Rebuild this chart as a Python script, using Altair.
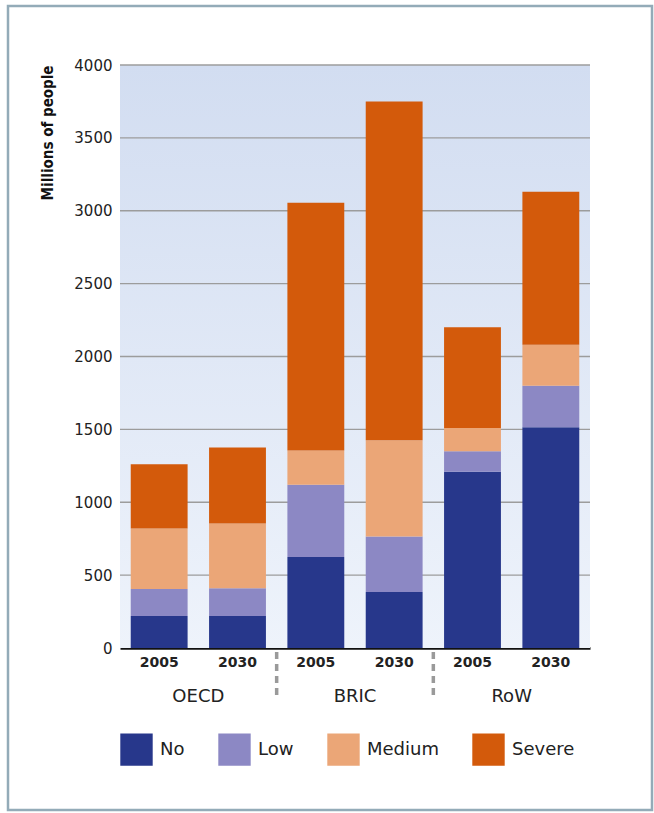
import altair as alt
import pandas as pd

groups = ["OECD", "BRIC", "RoW"]
years = ["2005", "2030"]
levels = ["No", "Low", "Medium", "Severe"]
colors = ["#27378b", "#8c88c4", "#eba677", "#d35a0b"]

# values per bar: OECD 2005, OECD 2030, BRIC 2005, BRIC 2030, RoW 2005, RoW 2030
no_vals = [220, 220, 625, 385, 1210, 1515]
low_vals = [185, 190, 495, 380, 140, 285]
medium_vals = [415, 445, 235, 660, 160, 280]
severe_vals = [440, 520, 1700, 2325, 690, 1050]

y_ticks = [0, 500, 1000, 1500, 2000, 2500, 3000, 3500, 4000]
separators = ["BRIC", "RoW"]

bar_keys = [f"{g} {y}" for g in groups for y in years]
series = [no_vals, low_vals, medium_vals, severe_vals]

rows = []
for li, (lvl, vals) in enumerate(zip(levels, series)):
    for k, v in zip(bar_keys, vals):
        rows.append({"bar": k, "level": lvl, "idx": li, "value": v})
df = pd.DataFrame(rows)

W, H = 470, 583
yscale = alt.Scale(domain=[0, 4000])
yaxis = alt.Axis(title="Millions of people", values=y_ticks, format="d",
                 titleFont="DejaVu Sans Condensed", titleFontSize=15,
                 titleFontWeight="bold", titleColor="#111",
                 titleAnchor="end", titlePadding=18,
                 labelFont="DejaVu Sans", labelFontSize=15, labelColor="#222",
                 labelPadding=8, ticks=False, domain=False, grid=False)

bg = alt.Chart(pd.DataFrame({"a": [0]})).mark_rect(
    color=alt.Gradient(
        gradient="linear",
        stops=[alt.GradientStop(color="#d2ddf1", offset=0),
               alt.GradientStop(color="#eef3fb", offset=1)],
        x1=0, x2=0, y1=0, y2=1,
    )
).encode(x=alt.value(0), x2=alt.value(W), y=alt.value(0), y2=alt.value(H))

frame = alt.Chart(pd.DataFrame({"a": [0]})).mark_rect(
    filled=False, stroke="#93abb8", strokeWidth=2.5
).encode(x=alt.value(-112), x2=alt.value(532), y=alt.value(-59), y2=alt.value(745))

grid = alt.Chart(pd.DataFrame({"tick": y_ticks[1:]})).mark_rule(
    color="#9c9c9c", strokeWidth=1.3
).encode(
    y=alt.Y("tick:Q", scale=yscale, axis=yaxis),
    x=alt.value(0), x2=alt.value(W),
)

bars = alt.Chart(df).mark_bar().encode(
    x=alt.X("bar:N", sort=bar_keys,
            scale=alt.Scale(paddingInner=0.274, paddingOuter=0.137),
            axis=alt.Axis(title=None, labelExpr="split(datum.label, ' ')[1]",
                          labelAngle=0, labelFont="DejaVu Sans", labelFontSize=14,
                          labelFontWeight="bold", labelColor="#222", labelPadding=7,
                          ticks=False, domain=True, domainColor="#111", domainWidth=2.5)),
    y=alt.Y("value:Q", stack="zero", scale=yscale, axis=yaxis),
    color=alt.Color("level:N", sort=levels,
                    scale=alt.Scale(domain=levels, range=colors),
                    legend=alt.Legend(title=None, orient="none", direction="horizontal",
                                      legendX=0, legendY=668, symbolType="square",
                                      symbolSize=1050, symbolStrokeWidth=0,
                                      labelFont="DejaVu Sans", labelFontSize=18,
                                      labelColor="#222", labelOffset=7,
                                      columnPadding=33)),
    order=alt.Order("idx:Q"),
)

seps = alt.Chart(pd.DataFrame({"group": separators})).mark_rule(
    color="#9a9a9a", strokeWidth=3.5, strokeDash=[7, 5]
).encode(
    x=alt.X("group:N", bandPosition=0,
            scale=alt.Scale(domain=groups, paddingInner=0, paddingOuter=0),
            axis=alt.Axis(title=None, labelAngle=0, labelFont="DejaVu Sans",
                          labelFontSize=18, labelColor="#222", labelPadding=39,
                          ticks=False, domain=False, orient="bottom")),
    y=alt.value(H + 4),
    y2=alt.value(H + 48),
)

chart = alt.layer(frame, bg, grid, bars, seps).resolve_scale(x="independent").properties(
    width=W, height=H,
    autosize=alt.AutoSizeParams(type="none"),
    padding={"left": 120, "top": 65, "right": 64, "bottom": 165},
    background="white",
).configure_view(stroke=None)

chart.save("out.html", embed_options={"renderer": "svg", "actions": False})
